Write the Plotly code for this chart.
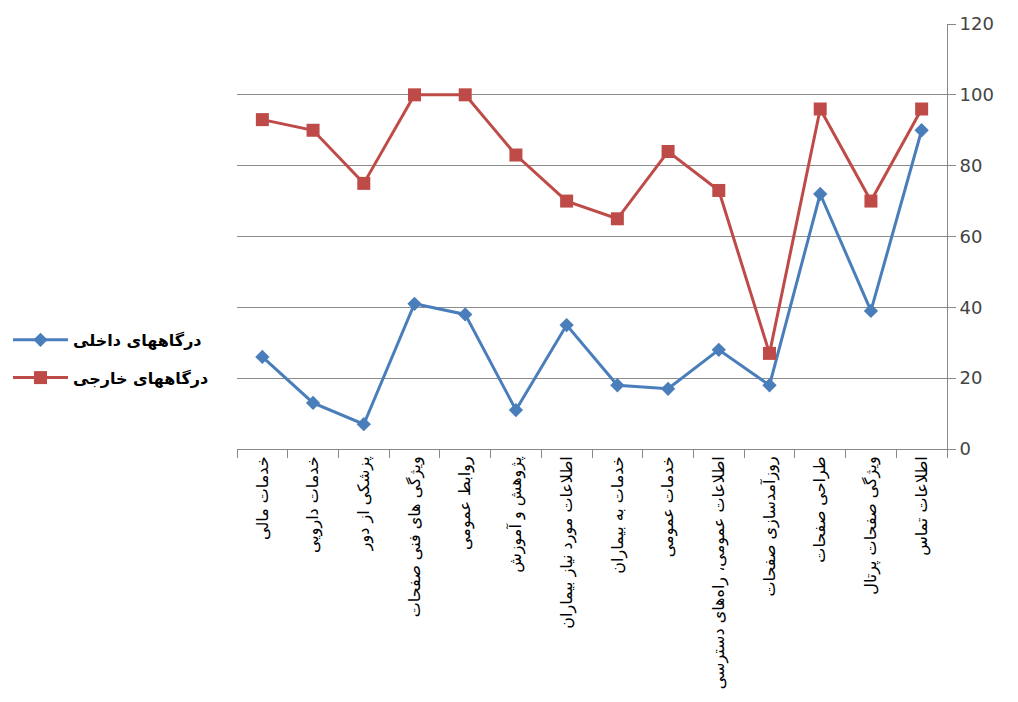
import plotly.graph_objects as go

categories = [
    "خدمات مالی",
    "خدمات دارویی",
    "پزشکی از دور",
    "ویژگی های فنی صفحات",
    "روابط عمومی",
    "پژوهش و آموزش",
    "اطلاعات مورد نیاز بیماران",
    "خدمات به بیماران",
    "خدمات عمومی",
    "اطلاعات عمومی، راه‌های دسترسی",
    "روزآمدسازی صفحات",
    "طراحی صفحات",
    "ویژگی صفحات پرتال",
    "اطلاعات تماس",
]
internal = [26, 13, 7, 41, 38, 11, 35, 18, 17, 28, 18, 72, 39, 90]
external = [93, 90, 75, 100, 100, 83, 70, 65, 84, 73, 27, 96, 70, 96]
name_internal = "درگاههای داخلی"
name_external = "درگاههای خارجی"
y_ticks = [0, 20, 40, 60, 80, 100, 120]

fig = go.Figure()
fig.add_trace(go.Scatter(
    x=categories, y=internal, name=name_internal, mode="lines+markers",
    line=dict(color="#4A7EBB", width=3),
    marker=dict(symbol="diamond", size=11, color="#4A7EBB"),
    legendgroup="a",
))
fig.add_trace(go.Scatter(
    x=categories, y=external, name=name_external, mode="lines+markers",
    line=dict(color="#BE4B48", width=3),
    marker=dict(symbol="square", size=13, color="#BE4B48"),
    legendgroup="b",
))

fig.update_layout(
    width=1002, height=686,
    margin=dict(l=229, r=63, t=16, b=245, autoexpand=False),
    plot_bgcolor="white", paper_bgcolor="white",
    font=dict(family="DejaVu Sans", color="#222"),
    legend=dict(
        xref="container", x=0.0, y=0.212, xanchor="left", yanchor="middle",
        font=dict(family="DejaVu Sans", size=16, color="black", weight="bold"),
        traceorder="grouped", tracegroupgap=14, itemwidth=55,
        bgcolor="rgba(0,0,0,0)",
    ),
    showlegend=True,
)
fig.update_xaxes(
    type="category", range=[-0.5, 13.5], automargin=False,
    showline=True, linecolor="#888", linewidth=1,
    ticks="outside", tickson="boundaries", ticklen=8, tickcolor="#888",
    tickangle=-90, tickfont=dict(family="DejaVu Sans", size=16, color="black"),
    showgrid=False,
)
fig.update_yaxes(
    side="right", range=[0, 120], tickvals=y_ticks, automargin=False,
    showline=True, linecolor="#888", linewidth=1,
    ticks="outside", ticklen=8, tickcolor="#888",
    showgrid=True, gridcolor="#8c8c8c", gridwidth=1,
    tickfont=dict(family="DejaVu Sans", size=18, color="#444"),
    zeroline=False,
)

fig.write_html("out.html")
